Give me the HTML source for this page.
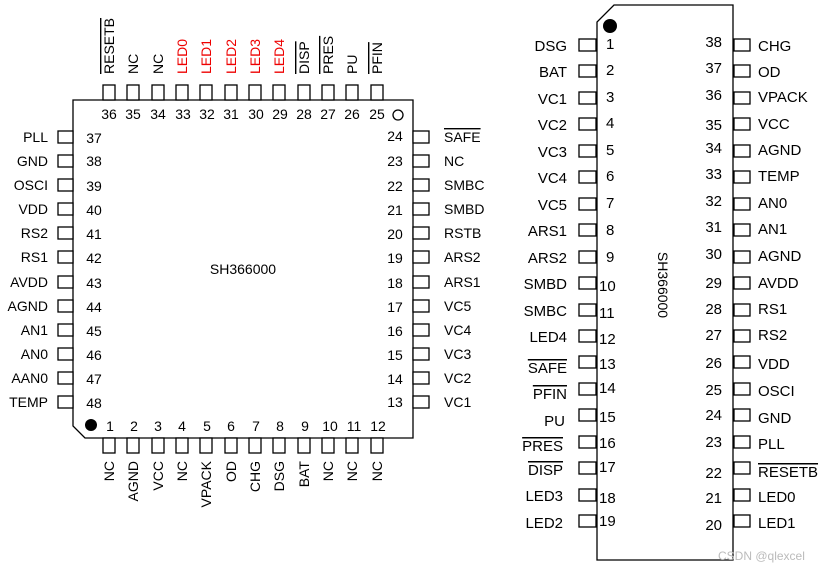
<!DOCTYPE html>
<html><head><meta charset="utf-8"><style>
html,body{margin:0;padding:0;background:#fff}
svg{display:block}
text{font-family:"Liberation Sans",Arial,sans-serif;font-size:14px;fill:#000}
.dip text{font-size:15px}
.r{fill:#e00}
rect,path{fill:#fff;stroke:#000;stroke-width:1.3}
</style></head><body>
<svg width="834" height="571" viewBox="0 0 834 571" xmlns="http://www.w3.org/2000/svg">
<!-- LEFT QFP -->
<path d="M73,100 H413 V438 H85 L73,426 Z"/>
<circle cx="398" cy="115" r="5" style="fill:#fff;stroke:#000;stroke-width:1.3"/>
<circle cx="91" cy="425" r="6" style="fill:#000"/>
<text x="243" y="274" text-anchor="middle">SH366000</text>
<g>
<rect x="103" y="85" width="12" height="15"/><rect x="127" y="85" width="12" height="15"/><rect x="152" y="85" width="12" height="15"/><rect x="176" y="85" width="12" height="15"/><rect x="200" y="85" width="12" height="15"/><rect x="225" y="85" width="12" height="15"/><rect x="249" y="85" width="12" height="15"/><rect x="273" y="85" width="12" height="15"/><rect x="298" y="85" width="12" height="15"/><rect x="322" y="85" width="12" height="15"/><rect x="346" y="85" width="12" height="15"/><rect x="371" y="85" width="12" height="15"/>
</g>
<g text-anchor="middle">
<text x="109" y="119">36</text><text x="133" y="119">35</text><text x="158" y="119">34</text><text x="183" y="119">33</text><text x="207" y="119">32</text><text x="231" y="119">31</text><text x="256" y="119">30</text><text x="280" y="119">29</text><text x="304" y="119">28</text><text x="328" y="119">27</text><text x="352" y="119">26</text><text x="377" y="119">25</text>
</g>
<g>
<text transform="translate(114,74) rotate(-90)" text-decoration="overline">RESETB</text>
<text transform="translate(138,74) rotate(-90)">NC</text>
<text transform="translate(163,74) rotate(-90)">NC</text>
<text class="r" transform="translate(187,74) rotate(-90)">LED0</text>
<text class="r" transform="translate(211,74) rotate(-90)">LED1</text>
<text class="r" transform="translate(236,74) rotate(-90)">LED2</text>
<text class="r" transform="translate(260,74) rotate(-90)">LED3</text>
<text class="r" transform="translate(284,74) rotate(-90)">LED4</text>
<text transform="translate(309,74) rotate(-90)" text-decoration="overline">DISP</text>
<text transform="translate(333,74) rotate(-90)" text-decoration="overline">PRES</text>
<text transform="translate(357,74) rotate(-90)">PU</text>
<text transform="translate(382,74) rotate(-90)" text-decoration="overline">PFIN</text>
</g>
<g>
<rect x="103" y="438" width="12" height="15"/><rect x="127" y="438" width="12" height="15"/><rect x="152" y="438" width="12" height="15"/><rect x="176" y="438" width="12" height="15"/><rect x="200" y="438" width="12" height="15"/><rect x="225" y="438" width="12" height="15"/><rect x="249" y="438" width="12" height="15"/><rect x="273" y="438" width="12" height="15"/><rect x="298" y="438" width="12" height="15"/><rect x="322" y="438" width="12" height="15"/><rect x="346" y="438" width="12" height="15"/><rect x="371" y="438" width="12" height="15"/>
</g>
<g text-anchor="middle">
<text x="110" y="431">1</text><text x="134" y="431">2</text><text x="158" y="431">3</text><text x="182" y="431">4</text><text x="207" y="431">5</text><text x="231" y="431">6</text><text x="256" y="431">7</text><text x="280" y="431">8</text><text x="305" y="431">9</text><text x="330" y="431">10</text><text x="354" y="431">11</text><text x="378" y="431">12</text>
</g>
<g text-anchor="end">
<text transform="translate(114,461) rotate(-90)">NC</text>
<text transform="translate(138,461) rotate(-90)">AGND</text>
<text transform="translate(163,461) rotate(-90)">VCC</text>
<text transform="translate(187,461) rotate(-90)">NC</text>
<text transform="translate(211,461) rotate(-90)">VPACK</text>
<text transform="translate(236,461) rotate(-90)">OD</text>
<text transform="translate(260,461) rotate(-90)">CHG</text>
<text transform="translate(284,461) rotate(-90)">DSG</text>
<text transform="translate(309,461) rotate(-90)">BAT</text>
<text transform="translate(333,461) rotate(-90)">NC</text>
<text transform="translate(357,461) rotate(-90)">NC</text>
<text transform="translate(382,461) rotate(-90)">NC</text>
</g>
<g>
<rect x="58" y="131" width="15" height="12"/><rect x="58" y="155" width="15" height="12"/><rect x="58" y="179" width="15" height="12"/><rect x="58" y="203" width="15" height="12"/><rect x="58" y="227" width="15" height="12"/><rect x="58" y="251" width="15" height="12"/><rect x="58" y="276" width="15" height="12"/><rect x="58" y="300" width="15" height="12"/><rect x="58" y="324" width="15" height="12"/><rect x="58" y="348" width="15" height="12"/><rect x="58" y="372" width="15" height="12"/><rect x="58" y="396" width="15" height="12"/>
</g>
<g text-anchor="end">
<text x="48" y="142">PLL</text><text x="48" y="166">GND</text><text x="48" y="190">OSCI</text><text x="48" y="214">VDD</text><text x="48" y="238">RS2</text><text x="48" y="262">RS1</text><text x="48" y="287">AVDD</text><text x="48" y="311">AGND</text><text x="48" y="335">AN1</text><text x="48" y="359">AN0</text><text x="48" y="383">AAN0</text><text x="48" y="407">TEMP</text>
</g>
<g text-anchor="middle">
<text x="94" y="143">37</text><text x="94" y="166">38</text><text x="94" y="191">39</text><text x="94" y="215">40</text><text x="94" y="239">41</text><text x="94" y="263">42</text><text x="94" y="288">43</text><text x="94" y="312">44</text><text x="94" y="336">45</text><text x="94" y="360">46</text><text x="94" y="384">47</text><text x="94" y="408">48</text>
</g>
<g>
<rect x="413" y="131" width="16" height="12"/><rect x="413" y="155" width="16" height="12"/><rect x="413" y="179" width="16" height="12"/><rect x="413" y="203" width="16" height="12"/><rect x="413" y="227" width="16" height="12"/><rect x="413" y="251" width="16" height="12"/><rect x="413" y="276" width="16" height="12"/><rect x="413" y="300" width="16" height="12"/><rect x="413" y="324" width="16" height="12"/><rect x="413" y="348" width="16" height="12"/><rect x="413" y="372" width="16" height="12"/><rect x="413" y="396" width="16" height="12"/>
</g>
<g>
<text x="444" y="142" text-decoration="overline">SAFE</text><text x="444" y="166">NC</text><text x="444" y="190">SMBC</text><text x="444" y="214">SMBD</text><text x="444" y="238">RSTB</text><text x="444" y="262">ARS2</text><text x="444" y="287">ARS1</text><text x="444" y="311">VC5</text><text x="444" y="335">VC4</text><text x="444" y="359">VC3</text><text x="444" y="383">VC2</text><text x="444" y="407">VC1</text>
</g>
<g text-anchor="middle">
<text x="395" y="141">24</text><text x="395" y="166">23</text><text x="395" y="191">22</text><text x="395" y="215">21</text><text x="395" y="239">20</text><text x="395" y="263">19</text><text x="395" y="288">18</text><text x="395" y="312">17</text><text x="395" y="336">16</text><text x="395" y="360">15</text><text x="395" y="384">14</text><text x="395" y="407">13</text>
</g>

<!-- RIGHT DIP -->
<g class="dip">
<path d="M614,5 H733 V560 H597 V22 Z"/>
<circle cx="610" cy="26" r="7" style="fill:#000"/>
<text transform="translate(658,285) rotate(90)" text-anchor="middle" style="font-size:14px">SH366000</text>
<g>
<rect x="579" y="39" width="17" height="12"/><rect x="579" y="65" width="17" height="12"/><rect x="579" y="92" width="17" height="12"/><rect x="579" y="118" width="17" height="12"/><rect x="579" y="145" width="17" height="12"/><rect x="579" y="171" width="17" height="12"/><rect x="579" y="198" width="17" height="12"/><rect x="579" y="224" width="17" height="12"/><rect x="579" y="251" width="17" height="12"/><rect x="579" y="277" width="17" height="12"/><rect x="579" y="304" width="17" height="12"/><rect x="579" y="330" width="17" height="12"/><rect x="579" y="356" width="17" height="12"/><rect x="579" y="383" width="17" height="12"/><rect x="579" y="409" width="17" height="12"/><rect x="579" y="436" width="17" height="12"/><rect x="579" y="462" width="17" height="12"/><rect x="579" y="489" width="17" height="12"/><rect x="579" y="515" width="17" height="12"/>
</g>
<g text-anchor="end">
<text x="567" y="51">DSG</text><text x="567" y="77">BAT</text><text x="567" y="104">VC1</text><text x="567" y="130">VC2</text><text x="567" y="157">VC3</text><text x="567" y="183">VC4</text><text x="567" y="210">VC5</text><text x="567" y="236">ARS1</text><text x="567" y="263">ARS2</text><text x="567" y="289">SMBD</text><text x="567" y="316">SMBC</text><text x="567" y="342">LED4</text><text x="567" y="373" text-decoration="overline">SAFE</text><text x="567" y="399" text-decoration="overline">PFIN</text><text x="565" y="426">PU</text><text x="563" y="451" text-decoration="overline">PRES</text><text x="563" y="475" text-decoration="overline">DISP</text><text x="563" y="501">LED3</text><text x="563" y="528">LED2</text>
</g>
<g>
<text x="606" y="49">1</text><text x="606" y="75">2</text><text x="606" y="102">3</text><text x="606" y="128">4</text><text x="606" y="155">5</text><text x="606" y="181">6</text><text x="606" y="208">7</text><text x="606" y="235">8</text><text x="606" y="262">9</text><text x="599" y="291">10</text><text x="599" y="318">11</text><text x="599" y="344">12</text><text x="599" y="369">13</text><text x="599" y="393">14</text><text x="599" y="422">15</text><text x="599" y="448">16</text><text x="599" y="472">17</text><text x="599" y="503">18</text><text x="599" y="526">19</text>
</g>
<g>
<rect x="734" y="39" width="16" height="12"/><rect x="734" y="65" width="16" height="12"/><rect x="734" y="92" width="16" height="12"/><rect x="734" y="118" width="16" height="12"/><rect x="734" y="145" width="16" height="12"/><rect x="734" y="171" width="16" height="12"/><rect x="734" y="198" width="16" height="12"/><rect x="734" y="224" width="16" height="12"/><rect x="734" y="251" width="16" height="12"/><rect x="734" y="277" width="16" height="12"/><rect x="734" y="304" width="16" height="12"/><rect x="734" y="330" width="16" height="12"/><rect x="734" y="356" width="16" height="12"/><rect x="734" y="383" width="16" height="12"/><rect x="734" y="409" width="16" height="12"/><rect x="734" y="436" width="16" height="12"/><rect x="734" y="462" width="16" height="12"/><rect x="734" y="489" width="16" height="12"/><rect x="734" y="515" width="16" height="12"/>
</g>
<g>
<text x="758" y="51">CHG</text><text x="758" y="77">OD</text><text x="758" y="102">VPACK</text><text x="758" y="129">VCC</text><text x="758" y="155">AGND</text><text x="758" y="181">TEMP</text><text x="758" y="208">AN0</text><text x="758" y="234">AN1</text><text x="758" y="261">AGND</text><text x="758" y="288">AVDD</text><text x="758" y="314">RS1</text><text x="758" y="340">RS2</text><text x="758" y="369">VDD</text><text x="758" y="396">OSCI</text><text x="758" y="423">GND</text><text x="758" y="449">PLL</text><text x="758" y="477" text-decoration="overline">RESETB</text><text x="758" y="502">LED0</text><text x="758" y="528">LED1</text>
</g>
<g text-anchor="end">
<text x="722" y="47">38</text><text x="722" y="73">37</text><text x="722" y="100">36</text><text x="722" y="130">35</text><text x="722" y="153">34</text><text x="722" y="179">33</text><text x="722" y="206">32</text><text x="722" y="232">31</text><text x="722" y="259">30</text><text x="722" y="288">29</text><text x="722" y="314">28</text><text x="722" y="340">27</text><text x="722" y="368">26</text><text x="722" y="395">25</text><text x="722" y="420">24</text><text x="722" y="447">23</text><text x="722" y="478">22</text><text x="722" y="503">21</text><text x="722" y="530">20</text>
</g>
</g>
<text x="718" y="560" style="fill:#bbb;font-size:12px">CSDN @qlexcel</text>
</svg>
</body></html>
